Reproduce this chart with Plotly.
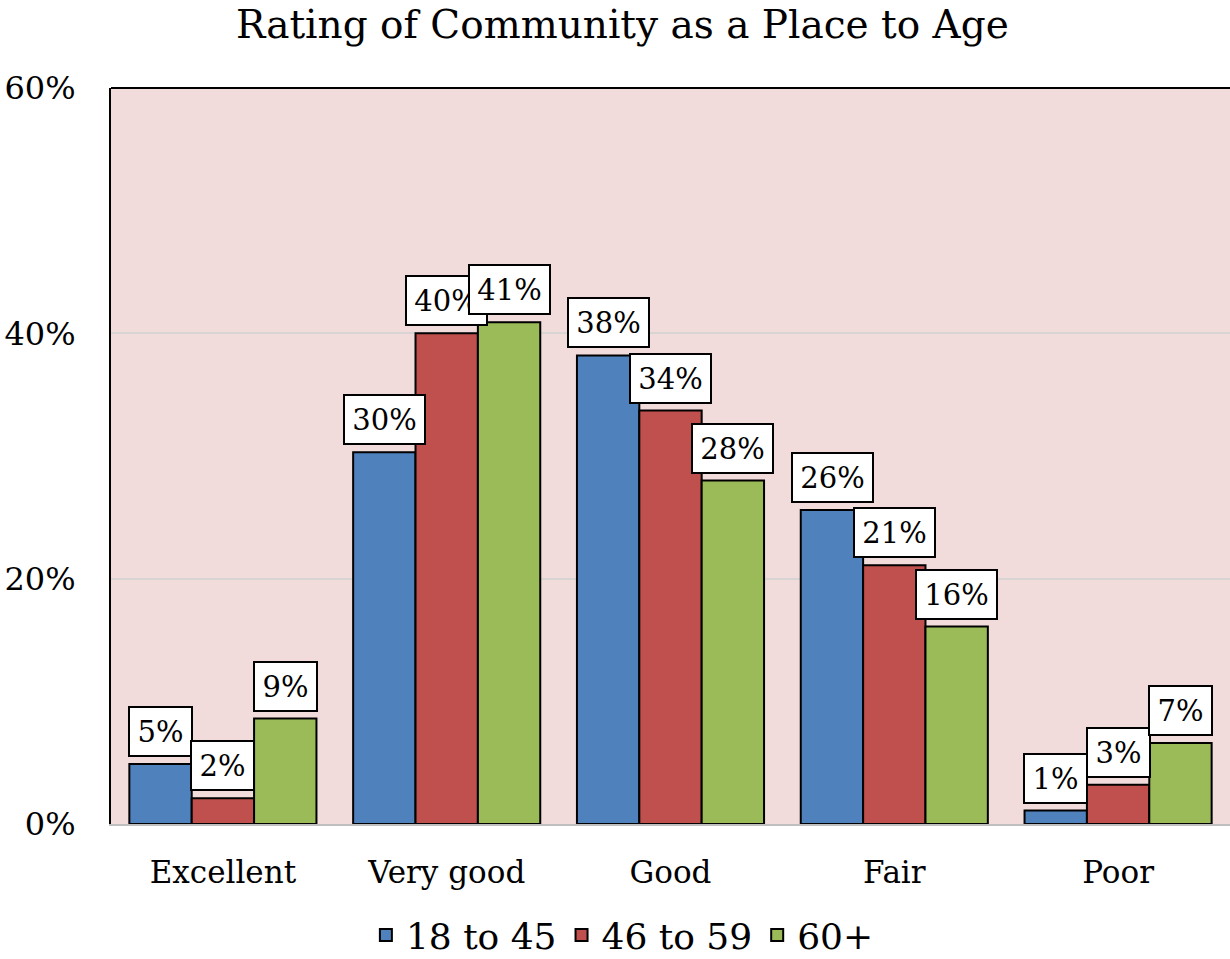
import plotly.graph_objects as go

categories = ["Excellent", "Very good", "Good", "Fair", "Poor"]
series_names = ["18 to 45", "46 to 59", "60+"]
vals_18_45 = [4.9, 30.3, 38.2, 25.6, 1.1]
vals_46_59 = [2.1, 40.0, 33.7, 21.1, 3.2]
vals_60p = [8.6, 40.9, 28.0, 16.1, 6.6]
colors = ["#4F81BD", "#C0504D", "#9BBB59"]
y_ticks = [0, 20, 40, 60]

FONT = "DejaVu Serif"
series = [vals_18_45, vals_46_59, vals_60p]

fig = go.Figure()
for name, vals, col in zip(series_names, series, colors):
    fig.add_trace(go.Bar(
        x=categories, y=vals, name=name,
        marker=dict(color=col, line=dict(color="black", width=2)),
    ))

# data labels in white boxes
bar_px = 62.3
for i, vals in enumerate(series):
    for cat, v in zip(categories, vals):
        txt = f"{round(v):d}%"
        fig.add_annotation(
            x=cat, y=v, text=txt, showarrow=False,
            xshift=(i - 1) * bar_px, yshift=7, yanchor="bottom",
            font=dict(family=FONT, size=29, color="black"),
            bgcolor="white", bordercolor="black", borderwidth=2, borderpad=2,
            width=57 if len(txt) == 2 else 75, height=43,
        )

# top border of plot area
fig.add_shape(type="line", xref="paper", yref="paper", x0=0, x1=1, y0=1, y1=1,
              line=dict(color="black", width=2))

fig.update_layout(
    width=1230, height=959,
    margin=dict(l=111, r=0, t=88, b=135, autoexpand=False),
    paper_bgcolor="white", plot_bgcolor="#F2DCDB",
    barmode="group", bargap=0.164, bargroupgap=0,
    font=dict(family=FONT, color="black"),
    title=dict(text="Rating of Community as a Place to Age", x=0.506, xanchor="center",
               y=0.975, yanchor="middle", font=dict(family=FONT, size=39, color="black")),
    legend=dict(orientation="h", xref="container", yref="container", x=0.506, xanchor="center",
                y=0.025, yanchor="middle", font=dict(family=FONT, size=36, color="black"),
                itemwidth=30, traceorder="normal"),
    showlegend=True,
)
fig.update_yaxes(range=[0, 60], tickvals=y_ticks, ticktext=[f"{t}%" for t in y_ticks],
                 showgrid=True, gridcolor="#D8D4D4", gridwidth=1.5,
                 showline=True, linecolor="black", linewidth=2, automargin=False,
                 ticks="", ticklabelstandoff=27, tickfont=dict(family=FONT, size=32, color="black"),
                 zeroline=False)
fig.update_xaxes(showline=True, linecolor="#BFBFBF", linewidth=2, ticks="", automargin=False,
                 ticklabelstandoff=20, tickfont=dict(family=FONT, size=31, color="black"))

fig.write_html("out.html", config={"displayModeBar": False},
               post_script="document.body.style.margin='0';document.body.style.overflow='hidden';")
